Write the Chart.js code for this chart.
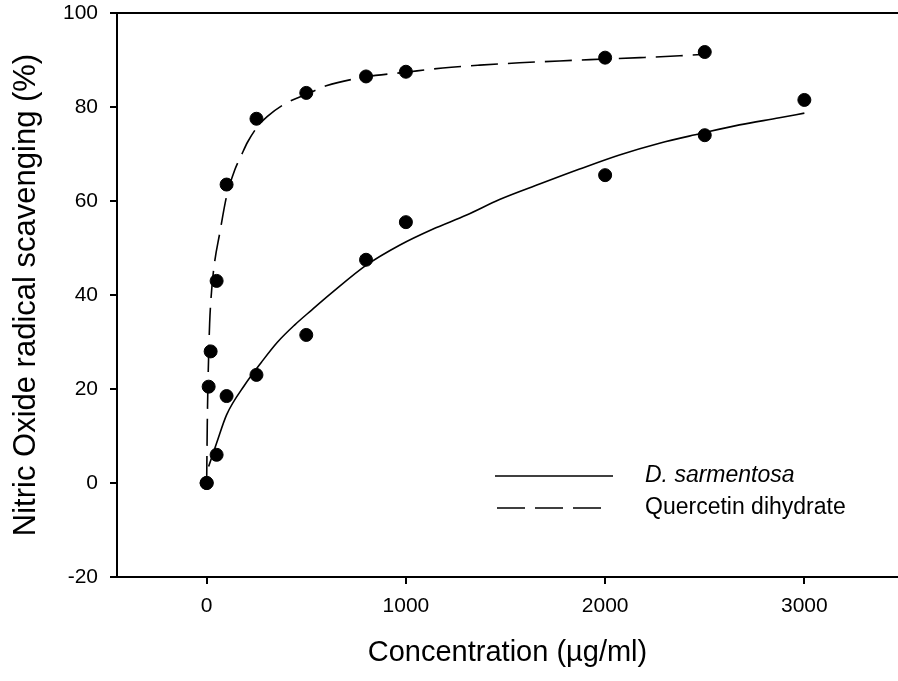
<!DOCTYPE html>
<html>
<head>
<meta charset="utf-8">
<script src="https://cdn.jsdelivr.net/npm/chart.js@4/dist/chart.umd.min.js"></script>
<style>
  html, body { margin: 0; padding: 0; background: #fff; overflow: hidden; }
  canvas { display: block; }
</style>
</head>
<body>
<canvas id="chart" width="898" height="681"></canvas>
<script>
// measured points
const sarmX = [0, 50, 100, 250, 500, 800, 1000, 2000, 2500, 3000];
const sarmY = [0, 6, 18.5, 23, 31.5, 47.5, 55.5, 65.5, 74, 81.5];
const querX = [0, 10, 20, 50, 100, 250, 500, 800, 1000, 2000, 2500];
const querY = [0, 20.5, 28, 43, 63.5, 77.5, 83, 86.5, 87.5, 90.5, 91.7];

// fitted curves
const sarmFitX = [10, 30, 50, 100, 190, 275, 356, 441, 527, 632, 803, 968, 1134, 1305, 1470, 1671, 1872, 2072, 2273, 2474, 2674, 2875, 3000];
const sarmFitY = [3.5, 6, 8.5, 14.5, 20.8, 25.7, 30, 33.6, 36.8, 40.6, 46.4, 50.6, 54, 57, 60.3, 63.6, 66.8, 69.8, 72.3, 74.3, 76.2, 77.7, 78.7];
const querFitX = [0, 3, 6, 10, 15, 25, 40, 65, 100, 140, 175, 205, 255, 305, 390, 500, 600, 800, 1000, 1185, 1370, 1570, 1770, 2000, 2175, 2375, 2500];
const querFitY = [0, 12, 20, 27, 34, 41, 47, 53, 61, 66.5, 69.8, 72.5, 75.8, 78, 80.6, 82.7, 84.5, 86.4, 87.4, 88.3, 88.9, 89.4, 89.8, 90.2, 90.5, 90.9, 91.2];

const xTicks = [0, 1000, 2000, 3000];
const yTicks = [-20, 0, 20, 40, 60, 80, 100];

const seriesNames = ['D. sarmentosa', 'Quercetin dihydrate'];
const xTitle = 'Concentration (\u00b5g/ml)';
const yTitle = 'Nitric Oxide radical scavenging (%)';

const toPts = (xs, ys) => xs.map((x, i) => ({x: x, y: ys[i]}));

const dashed = [27, 10];

const frameAndLegend = {
  id: 'frameAndLegend',
  afterDraw(chart) {
    const ctx = chart.ctx;
    const area = chart.chartArea;
    ctx.save();
    // top frame line
    ctx.strokeStyle = '#000';
    ctx.lineWidth = 2;
    ctx.beginPath();
    ctx.moveTo(area.left, area.top);
    ctx.lineTo(area.right, area.top);
    ctx.stroke();

    // legend
    const rows = [
      {label: seriesNames[0], dash: [], italic: true, y: 476, x1: 495, x2: 613},
      {label: seriesNames[1], dash: [28, 10], italic: false, y: 508, x1: 497, x2: 605}
    ];
    rows.forEach(r => {
      ctx.setLineDash(r.dash);
      ctx.lineWidth = 1.6;
      ctx.beginPath();
      ctx.moveTo(r.x1, r.y);
      ctx.lineTo(r.x2, r.y);
      ctx.stroke();
      ctx.setLineDash([]);
      ctx.fillStyle = '#000';
      ctx.font = (r.italic ? 'italic ' : '') + '23px "Liberation Sans", Arial, sans-serif';
      ctx.textBaseline = 'middle';
      ctx.textAlign = 'left';
      ctx.fillText(r.label, 645, r.y);
    });
    ctx.restore();
  }
};

const tickFont = {family: '"Liberation Sans", Arial, sans-serif', size: 21};

new Chart(document.getElementById('chart'), {
  type: 'scatter',
  data: {
    datasets: [
      {
        label: seriesNames[0] + ' fit',
        data: toPts(sarmFitX, sarmFitY),
        showLine: true,
        borderColor: '#000',
        borderWidth: 1.6,
        pointRadius: 0,
        cubicInterpolationMode: 'monotone'
      },
      {
        label: seriesNames[1] + ' fit',
        data: toPts(querFitX, querFitY),
        showLine: true,
        borderColor: '#000',
        borderWidth: 1.6,
        borderDash: dashed,
        pointRadius: 0,
        cubicInterpolationMode: 'monotone'
      },
      {
        label: seriesNames[0],
        data: toPts(sarmX, sarmY),
        pointRadius: 6.5,
        pointBackgroundColor: '#000',
        pointBorderColor: '#000'
      },
      {
        label: seriesNames[1],
        data: toPts(querX, querY),
        pointRadius: 6.5,
        pointBackgroundColor: '#000',
        pointBorderColor: '#000'
      }
    ]
  },
  options: {
    responsive: false,
    animation: false,
    layout: {autoPadding: false, padding: {top: 13, right: 0, left: 0, bottom: 0}},
    plugins: {
      legend: {display: false},
      tooltip: {enabled: false}
    },
    scales: {
      x: {
        type: 'linear',
        min: -450,
        max: 3470,
        afterBuildTicks: scale => { scale.ticks = xTicks.map(v => ({value: v})); },
        afterFit: scale => { scale.height = 104; scale.paddingLeft = 0; scale.paddingRight = 0; },
        ticks: {color: '#000', font: tickFont, padding: 10, maxRotation: 0, callback: v => String(v)},
        grid: {display: true, drawOnChartArea: false, drawTicks: true, tickLength: 7, color: '#000', lineWidth: 2},
        border: {display: true, color: '#000', width: 2},
        title: {
          display: true,
          text: xTitle,
          color: '#000',
          font: {family: '"Liberation Sans", Arial, sans-serif', size: 29},
          padding: {top: 0, bottom: 11}
        }
      },
      y: {
        type: 'linear',
        min: -20,
        max: 100,
        afterBuildTicks: scale => { scale.ticks = yTicks.map(v => ({value: v})); },
        afterFit: scale => { scale.width = 117; scale.paddingTop = 0; scale.paddingBottom = 0; },
        ticks: {color: '#000', font: tickFont, padding: 12, callback: v => String(v)},
        grid: {display: true, drawOnChartArea: false, drawTicks: true, tickLength: 7, color: '#000', lineWidth: 2},
        border: {display: true, color: '#000', width: 2},
        title: {
          display: true,
          text: yTitle,
          color: '#000',
          font: {family: '"Liberation Sans", Arial, sans-serif', size: 31},
          padding: {top: 8, bottom: 0}
        }
      }
    }
  },
  plugins: [frameAndLegend]
});
</script>
</body>
</html>
